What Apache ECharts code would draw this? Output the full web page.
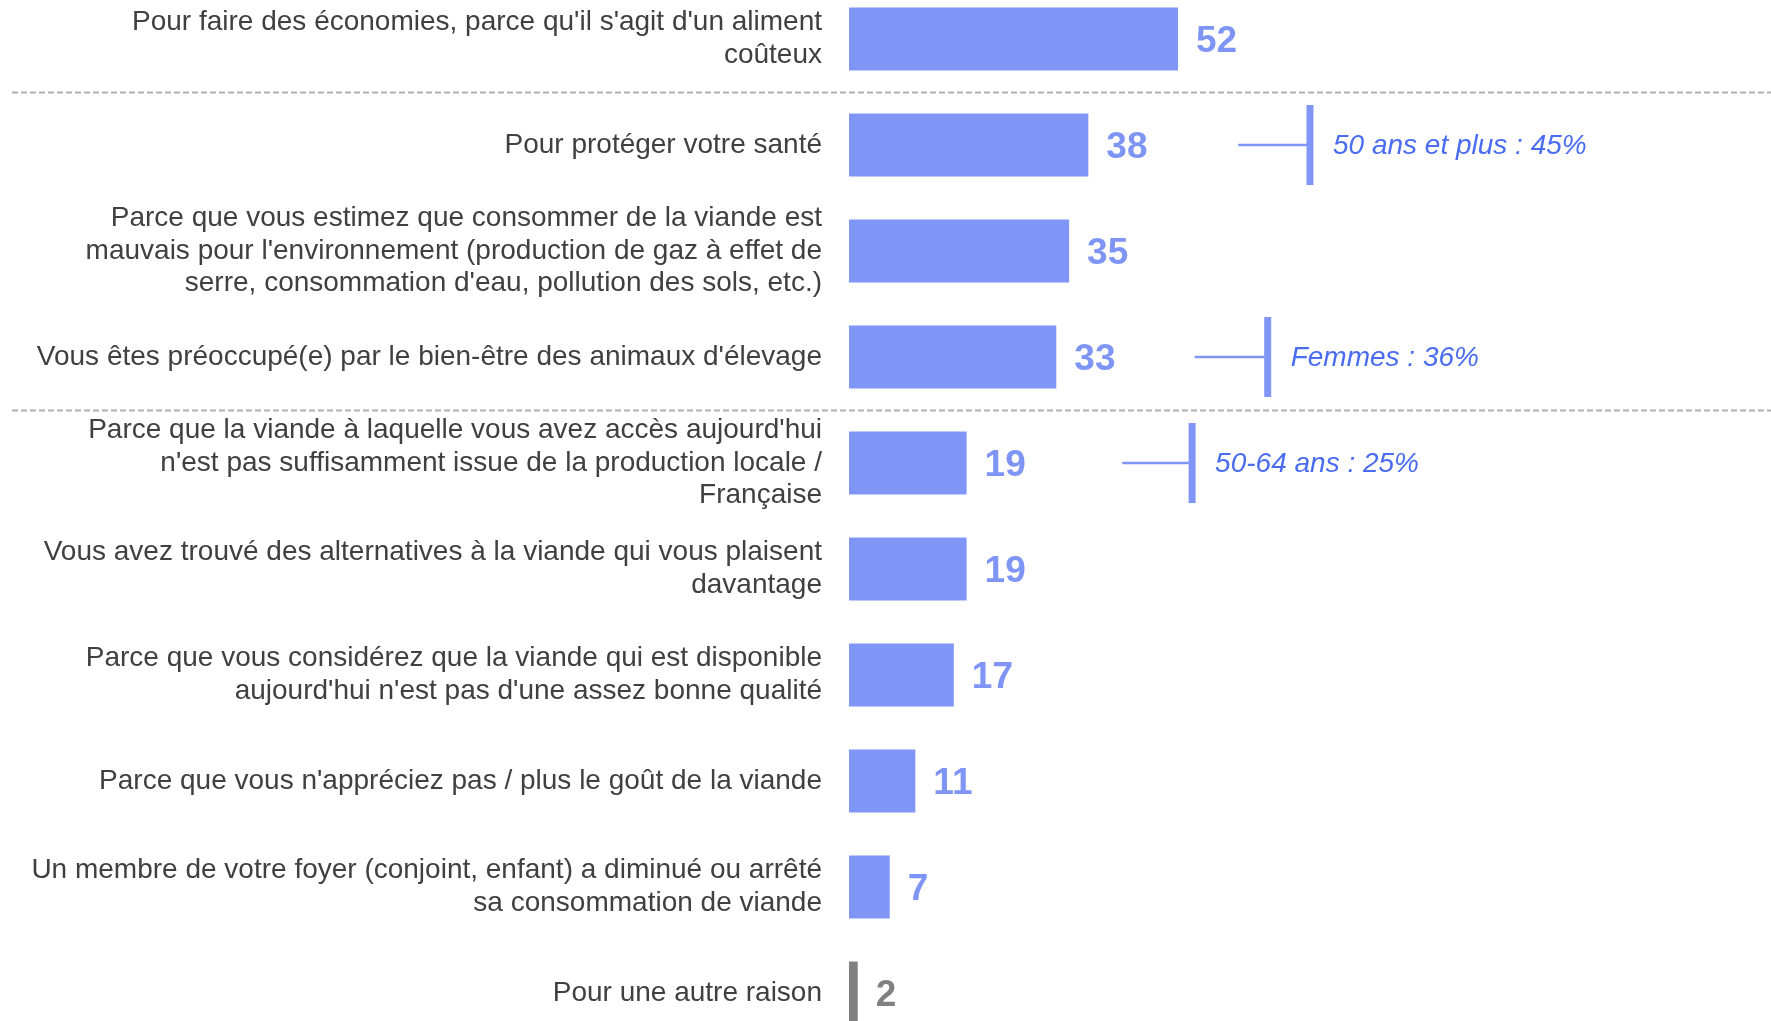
<!DOCTYPE html>
<html>
<head>
    <meta charset="utf-8">
    <title>Raisons de la baisse de consommation de viande</title>
    <script src="https://cdn.jsdelivr.net/npm/echarts@6/dist/echarts.min.js"></script>
    <style>
        html, body { margin: 0; padding: 0; background: #fff; overflow: hidden; }
        /* the last row runs past the bottom edge, as in the source picture */
        #chart { position: absolute; left: 0; top: -14.5px; width: 1771px; height: 1060px; }
    </style>
</head>
<body>
<div id="chart"></div>

<script>
    // Categories, top to bottom
    const reasons = [
        "Pour faire des économies, parce qu'il s'agit d'un aliment\ncoûteux",
        "Pour protéger votre santé",
        "Parce que vous estimez que consommer de la viande est\nmauvais pour l'environnement (production de gaz à effet de\nserre, consommation d'eau, pollution des sols, etc.)",
        "Vous êtes préoccupé(e) par le bien-être des animaux d'élevage",
        "Parce que la viande à laquelle vous avez accès aujourd'hui\nn'est pas suffisamment issue de la production locale /\nFrançaise",
        "Vous avez trouvé des alternatives à la viande qui vous plaisent\ndavantage",
        "Parce que vous considérez que la viande qui est disponible\naujourd'hui n'est pas d'une assez bonne qualité",
        "Parce que vous n'appréciez pas / plus le goût de la viande",
        "Un membre de votre foyer (conjoint, enfant) a diminué ou arrêté\nsa consommation de viande",
        "Pour une autre raison"
    ];
    const shares = [52, 38, 35, 33, 19, 19, 17, 11, 7, 2];
    const greyedReasons = [9];          // "autre raison" drawn in grey
    const dividersBefore = [1, 4];      // dashed separators above these rows

    // Sub-group callouts (row index, text, line start and tick, in axis units)
    const calloutRows = [1, 3, 4];
    const calloutTexts = ['50 ans et plus : 45%', 'Femmes : 36%', '50-64 ans : 25%'];
    const calloutFrom = [61.4, 54.6, 43.3];
    const calloutAt = [72.6, 66.0, 54.2];

    const BLUE = '#8096f7';
    const BLUE_LABEL = '#7f95f5';
    const BLUE_TEXT = '#4a6cf0';
    const GREY = '#808080';
    const FONT = "'Liberation Sans', Arial, sans-serif";

    const chart = echarts.init(document.getElementById('chart'));

    const barData = shares.map((v, i) => {
        const grey = greyedReasons.includes(i);
        return {
            value: v,
            itemStyle: { color: grey ? GREY : BLUE },
            label: { color: grey ? GREY : BLUE_LABEL }
        };
    });

    const option = {
        animation: false,
        backgroundColor: '#fff',
        grid: { left: 849, right: 285.5, top: 0, bottom: 0 },
        xAxis: {
            type: 'value',
            min: 0.64,
            max: 100,
            show: false
        },
        yAxis: {
            type: 'category',
            inverse: true,
            data: reasons,
            axisLine: { show: false },
            axisTick: { show: false },
            splitLine: { show: false },
            axisLabel: {
                margin: 27,
                color: '#404040',
                fontFamily: FONT,
                fontSize: 28,
                lineHeight: 32.5,
                align: 'right'
            }
        },
        series: [
            {
                type: 'bar',
                data: barData,
                barWidth: 63,
                label: {
                    show: true,
                    position: 'right',
                    distance: 18,
                    offset: [0, 3],
                    fontFamily: FONT,
                    fontSize: 37,
                    fontWeight: 'bold'
                }
            },
            {
                // dashed separators between groups of reasons
                type: 'custom',
                silent: true,
                data: dividersBefore.map(r => [1, r]),
                encode: { x: 0, y: 1 },
                renderItem: (params, api) => {
                    const p = api.coord([api.value(0), api.value(1)]);
                    const band = api.size([0, 1])[1];
                    const y = Math.round(p[1] - band / 2) + 0.5;
                    return {
                        type: 'line',
                        shape: { x1: 12, y1: y, x2: api.getWidth(), y2: y },
                        style: { stroke: '#b0b0b0', lineWidth: 2, lineDash: [6, 3] }
                    };
                }
            },
            {
                // callouts for notable sub-groups
                type: 'custom',
                silent: true,
                data: calloutRows.map((r, i) => [calloutFrom[i], calloutAt[i], r]),
                encode: { x: [0, 1], y: 2 },
                renderItem: (params, api) => {
                    const s = api.coord([api.value(0), api.value(2)]);
                    const e = api.coord([api.value(1), api.value(2)]);
                    return {
                        type: 'group',
                        children: [
                            {
                                type: 'line',
                                shape: { x1: s[0], y1: s[1], x2: e[0], y2: e[1] },
                                style: { stroke: BLUE, lineWidth: 2.5 }
                            },
                            {
                                type: 'rect',
                                shape: { x: e[0] - 3.5, y: e[1] - 40, width: 7, height: 80 },
                                style: { fill: BLUE }
                            },
                            {
                                type: 'text',
                                x: e[0] + 23,
                                y: e[1] + 1,
                                style: {
                                    text: calloutTexts[params.dataIndex],
                                    fill: BLUE_TEXT,
                                    font: 'italic 28px ' + FONT,
                                    verticalAlign: 'middle'
                                }
                            }
                        ]
                    };
                }
            }
        ]
    };

    chart.setOption(option);
</script>
</body>
</html>
